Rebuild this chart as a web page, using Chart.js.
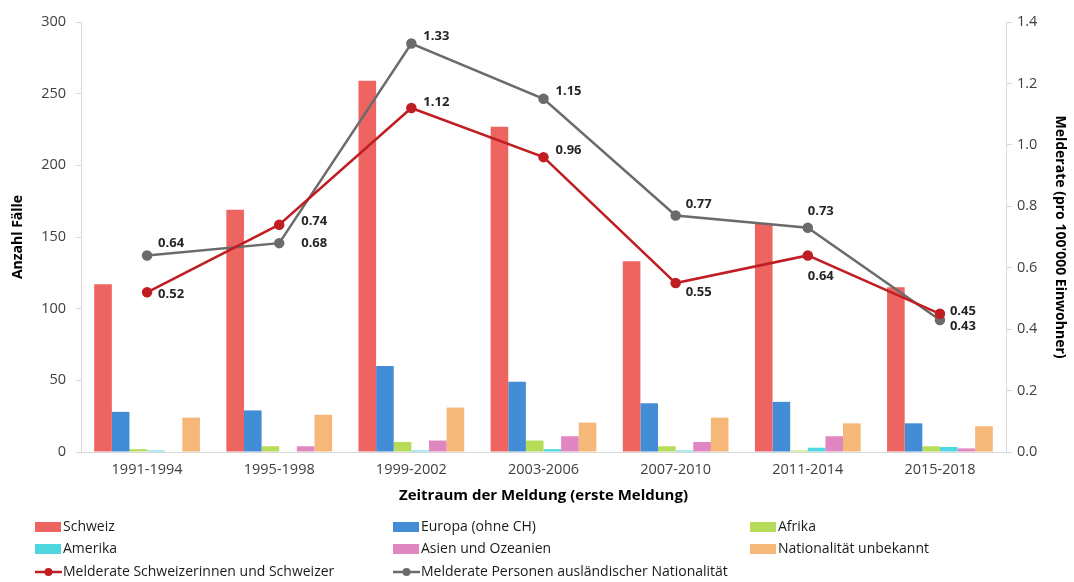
<!DOCTYPE html>
<html>
<head>
<meta charset="utf-8">
<script src="https://cdn.jsdelivr.net/npm/chart.js@4"></script>
<style>
  body { margin: 0; background: #fff; }
  #wrap { width: 1074px; height: 582px; position: relative; }
</style>
</head>
<body>
<div id="wrap"><canvas id="chart"></canvas></div>
<script>
// Categories and values
const periods = ["1991-1994", "1995-1998", "1999-2002", "2003-2006", "2007-2010", "2011-2014", "2015-2018"];

const schweiz = [117, 169, 259, 227, 133, 159, 115];
const europa = [28, 29, 60, 49, 34, 35, 20];
const afrika = [2, 4, 7, 8, 4, 1, 4];
const amerika = [1, 0, 1, 2, 1, 3, 3.5];
const asien = [0, 4, 8, 11, 7, 11, 2.5];
const unbekannt = [24, 26, 31, 20.5, 24, 20, 18];

const rateSchweiz = [0.52, 0.74, 1.12, 0.96, 0.55, 0.64, 0.45];
const rateAusland = [0.64, 0.68, 1.33, 1.15, 0.77, 0.73, 0.43];

const leftTicks = [0, 50, 100, 150, 200, 250, 300];
const rightTicks = [0, 0.2, 0.4, 0.6, 0.8, 1.0, 1.2, 1.4];

// where each value label sits relative to its point (dx, dy)
const labelOffsetsSchweiz = [[11, 2], [22, -3], [12, -6], [12, -7], [10, 9], [0, 21], [10, -2]];
const labelOffsetsAusland = [[11, -12], [22, 0], [12, -7], [12, -7], [10, -11], [0, -16], [10, 6]];

const FONT = "'Open Sans', 'DejaVu Sans', sans-serif";
const gridColor = "#d9d9d9";

function bar(label, data, color) {
  return {
    type: "bar",
    label: label,
    data: data,
    backgroundColor: color,
    yAxisID: "y",
    order: 1,
    barPercentage: 1.0,
    categoryPercentage: 0.8,
  };
}

function line(label, data, color, offsets) {
  return {
    type: "line",
    label: label,
    data: data,
    borderColor: color,
    backgroundColor: color,
    pointBackgroundColor: color,
    pointBorderColor: color,
    borderWidth: 2.5,
    pointRadius: 4,
    tension: 0,
    yAxisID: "y1",
    order: 0,
    labelOffsets: offsets,
  };
}

// Value labels next to the line points
const valueLabels = {
  id: "valueLabels",
  afterDatasetsDraw(chart) {
    const ctx = chart.ctx;
    ctx.save();
    ctx.font = "bold 13px " + FONT;
    ctx.fillStyle = "#262626";
    ctx.textAlign = "left";
    ctx.textBaseline = "middle";
    chart.data.datasets.forEach((ds, i) => {
      if (ds.type !== "line") return;
      const meta = chart.getDatasetMeta(i);
      meta.data.forEach((pt, j) => {
        const off = ds.labelOffsets[j];
        ctx.fillText(ds.data[j].toFixed(2), pt.x + off[0], pt.y + off[1]);
      });
    });
    ctx.restore();
  },
};

// Legend in three columns below the chart
const gridLegend = {
  id: "gridLegend",
  afterDraw(chart) {
    const ctx = chart.ctx;
    const cols = [35, 393, 750];
    const rows = [527, 549, 572];
    ctx.save();
    ctx.font = "14px " + FONT;
    ctx.textBaseline = "middle";
    ctx.textAlign = "left";
    chart.data.datasets.forEach((ds, i) => {
      const x = cols[i % 3];
      const y = rows[Math.floor(i / 3)];
      if (ds.type === "bar") {
        ctx.fillStyle = ds.backgroundColor;
        ctx.fillRect(x, y - 5, 26, 10);
      } else {
        ctx.strokeStyle = ds.borderColor;
        ctx.lineWidth = 2.5;
        ctx.beginPath();
        ctx.moveTo(x, y);
        ctx.lineTo(x + 27, y);
        ctx.stroke();
        ctx.fillStyle = ds.borderColor;
        ctx.beginPath();
        ctx.arc(x + 13.5, y, 4, 0, Math.PI * 2);
        ctx.fill();
      }
      ctx.fillStyle = "#1a1a1a";
      ctx.fillText(ds.label, x + 28, y);
    });
    ctx.restore();
  },
};

const ctx = document.getElementById("chart").getContext("2d");

new Chart(ctx, {
  data: {
    labels: periods,
    datasets: [
      bar("Schweiz", schweiz, "#ed6461"),
      bar("Europa (ohne CH)", europa, "#428dd6"),
      bar("Afrika", afrika, "#b7dc5a"),
      bar("Amerika", amerika, "#50d6e0"),
      bar("Asien und Ozeanien", asien, "#e086c0"),
      bar("Nationalität unbekannt", unbekannt, "#f6b878"),
      line("Melderate Schweizerinnen und Schweizer", rateSchweiz, "#c01e23", labelOffsetsSchweiz),
      line("Melderate Personen ausländischer Nationalität", rateAusland, "#6b6b6b", labelOffsetsAusland),
    ],
  },
  options: {
    responsive: true,
    maintainAspectRatio: false,
    animation: false,
    layout: { padding: { top: 22, bottom: 77, left: 0, right: 0 } },
    plugins: {
      legend: { display: false },
      tooltip: { enabled: false },
    },
    scales: {
      x: {
        grid: { display: true, drawOnChartArea: false, drawTicks: false, color: gridColor },
        border: { display: true, color: gridColor },
        ticks: { color: "#404040", font: { family: FONT, size: 14.5 }, padding: 9 },
        title: {
          display: true,
          text: "Zeitraum der Meldung (erste Meldung)",
          color: "#000",
          font: { family: FONT, size: 15, weight: "bold" },
          padding: { top: 0, bottom: 0 },
        },
        afterFit(scale) { scale.height = 53; },
      },
      y: {
        position: "left",
        min: 0,
        max: 300,
        afterBuildTicks(scale) { scale.ticks = leftTicks.map((v) => ({ value: v })); },
        grid: { drawOnChartArea: false, drawTicks: true, tickLength: 5, color: gridColor },
        border: { display: true, color: gridColor },
        ticks: { color: "#404040", font: { family: FONT, size: 14.5 }, padding: 10 },
        title: {
          display: true,
          text: "Anzahl Fälle",
          color: "#000",
          font: { family: FONT, size: 14, weight: "bold" },
          padding: { top: 10, bottom: 0 },
        },
        afterFit(scale) { scale.width = 81; },
      },
      y1: {
        position: "right",
        min: 0,
        max: 1.4,
        afterBuildTicks(scale) { scale.ticks = rightTicks.map((v) => ({ value: v })); },
        grid: { drawOnChartArea: false, drawTicks: true, tickLength: 6, color: gridColor },
        border: { display: true, color: gridColor },
        ticks: {
          color: "#404040",
          font: { family: FONT, size: 14.5 },
          padding: 5,
          callback: (v) => Number(v).toFixed(1),
        },
        title: {
          display: true,
          text: "Melderate (pro 100'000 Einwohner)",
          color: "#000",
          font: { family: FONT, size: 14, weight: "bold" },
          padding: { top: 6, bottom: 0 },
        },
        afterFit(scale) { scale.width = 68; },
      },
    },
  },
  plugins: [valueLabels, gridLegend],
});
</script>
</body>
</html>
